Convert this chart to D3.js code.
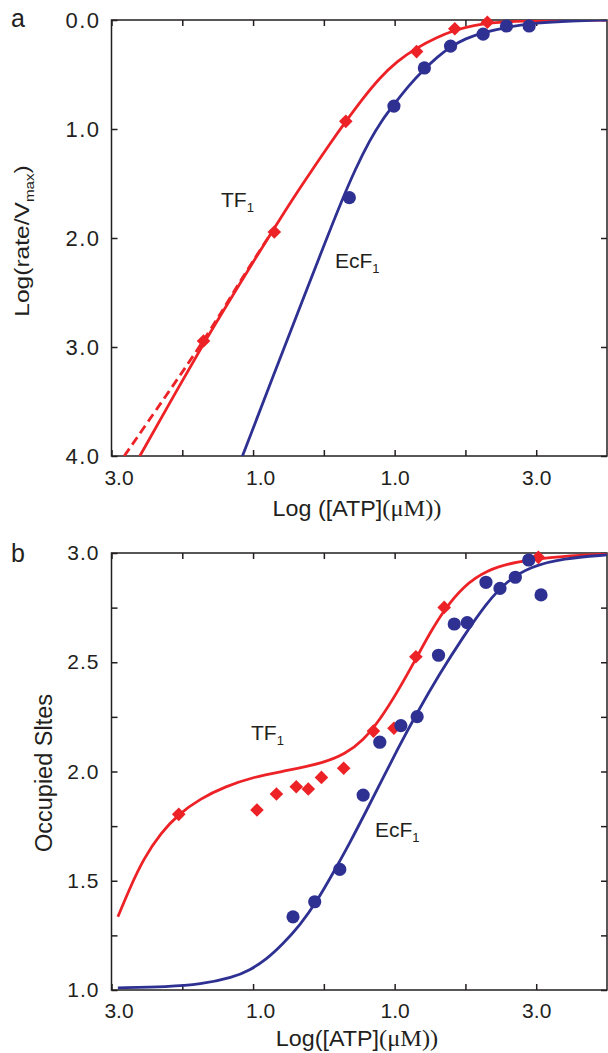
<!DOCTYPE html>
<html>
<head>
<meta charset="utf-8">
<script src="https://cdn.jsdelivr.net/npm/d3@7"></script>
<style>
  body { margin: 0; background: #fff; }
  svg { display: block; }
  text { font-family: "Liberation Sans", Arial, sans-serif; fill: #231f20; }
</style>
</head>
<body>
<div id="chart"></div>
<script>
// ---- tick values / labels (minus signs are missing in the original figure) ----
var xTicks = [-3, -2, -1, 0, 1, 2, 3];
var xTickLabels = ["3.0", "", "1.0", "", "1.0", "", "3.0"];
var rateTicks = [0, 1, 2, 3, 4];
var rateTickLabels = ["0.0", "1.0", "2.0", "3.0", "4.0"];
var siteTicks = [1, 1.25, 1.5, 1.75, 2, 2.25, 2.5, 2.75, 3];
var siteTickLabels = ["1.0", "", "1.5", "", "2.0", "", "2.5", "", "3.0"];

// ---- panel a : Log(rate/Vmax) vs Log[ATP] ----
var tfRatePts = [[-1.70, 2.945], [-0.70, 1.945], [0.31, 0.93], [1.31, 0.29], [1.85, 0.08], [2.31, 0.02]];
var ecRatePts = [[0.36, 1.63], [0.99, 0.79], [1.42, 0.44], [1.79, 0.24], [2.25, 0.13], [2.58, 0.055], [2.90, 0.055]];
var tfRateFit = [[-2.60, 4.0], [-2.0, 3.31], [-1.70, 2.97], [-1.45, 2.70], [-1.0, 2.22], [-0.72, 1.93], [-0.46, 1.66],
  [-0.15, 1.36], [0.08, 1.14], [0.31, 0.93], [0.55, 0.72], [0.79, 0.53], [1.03, 0.38], [1.31, 0.255], [1.59, 0.16],
  [1.85, 0.092], [2.11, 0.048], [2.44, 0.02], [3.0, 0.004], [4.0, 0.0]];
var tfRateFitDash = [[-2.82, 4.0], [-2.2, 3.42], [-1.61, 2.86], [-1.19, 2.40], [-0.72, 1.93]];
var ecRateFit = [[-1.15, 4.0], [-0.70, 3.24], [-0.30, 2.57], [0.0, 2.07], [0.25, 1.66], [0.45, 1.36], [0.65, 1.10],
  [0.82, 0.92], [0.99, 0.775], [1.20, 0.60], [1.42, 0.45], [1.60, 0.34], [1.79, 0.245], [2.0, 0.17], [2.25, 0.115],
  [2.58, 0.065], [3.0, 0.025], [3.5, 0.008], [4.0, 0.0]];

// ---- panel b : occupied sites vs Log[ATP] ----
var tfSitePts = [[-2.05, 1.804], [-0.945, 1.824], [-0.67, 1.897], [-0.39, 1.93], [-0.22, 1.92], [-0.034, 1.973],
  [0.28, 2.015], [0.70, 2.185], [0.99, 2.198], [1.30, 2.525], [1.70, 2.751], [3.03, 2.98]];
var ecSitePts = [[-0.436, 1.335], [-0.129, 1.404], [0.225, 1.552], [0.555, 1.892], [0.79, 2.134], [1.088, 2.21],
  [1.318, 2.251], [1.62, 2.532], [1.842, 2.675], [2.025, 2.681], [2.29, 2.866], [2.488, 2.838],
  [2.705, 2.889], [2.894, 2.968], [3.068, 2.808]];
var tfSiteFit = [[-2.91, 1.335], [-2.75, 1.46], [-2.55, 1.60], [-2.30, 1.72], [-2.05, 1.805], [-1.75, 1.875],
  [-1.40, 1.93], [-1.0, 1.975], [-0.5, 2.005], [0.0, 2.04], [0.3, 2.08], [0.55, 2.14], [0.80, 2.24],
  [1.05, 2.37], [1.30, 2.515], [1.50, 2.635], [1.70, 2.74], [1.97, 2.848], [2.30, 2.922], [2.72, 2.962],
  [3.38, 2.986], [4.0, 2.995]];
var ecSiteFit = [[-2.91, 1.01], [-2.2, 1.015], [-1.75, 1.025], [-1.28, 1.058], [-1.05, 1.09], [-0.81, 1.14],
  [-0.58, 1.21], [-0.34, 1.295], [-0.10, 1.405], [0.13, 1.535], [0.37, 1.675], [0.60, 1.82], [0.82, 1.96],
  [1.03, 2.095], [1.31, 2.265], [1.64, 2.45], [1.97, 2.617], [2.30, 2.772], [2.58, 2.87], [2.91, 2.937],
  [3.38, 2.976], [4.0, 2.991]];

var RED = "#ed2227", BLUE = "#2e3192";

var svg = d3.select("#chart").append("svg")
  .attr("width", 608)
  .attr("height", 1053);

var plotLeft = 111.5, plotRight = 607;

function drawPanel(cfg) {
  var h = cfg.bottom - cfg.top, w = plotRight - plotLeft;
  var g = svg.append("g").attr("transform", "translate(" + plotLeft + "," + cfg.top + ")");

  var x = d3.scaleLinear().domain([-3, 4]).range([0, w]);
  var y = d3.scaleLinear().domain(cfg.yDomain).range([h, 0]);

  var clipId = "clip-" + cfg.name;
  g.append("clipPath").attr("id", clipId)
    .append("rect").attr("width", w).attr("height", h);

  // axes, ticks pointing into the plot on all four sides
  var xb = g.append("g").attr("transform", "translate(0," + h + ")")
    .call(d3.axisBottom(x).tickValues(xTicks).tickSize(-6).tickPadding(cfg.xPad)
      .tickFormat(function(d, i) { return xTickLabels[i]; }));
  xb.selectAll("text").attr("dx", function(d) { return d < 0 ? 7 : 0; });
  g.append("g").call(d3.axisTop(x).tickValues(xTicks).tickSize(-6).tickFormat(""));
  var yl = g.append("g")
    .call(d3.axisLeft(y).tickValues(cfg.yTicks).tickSize(-6).tickPadding(cfg.yPad)
      .tickFormat(function(d, i) { return cfg.yLabels[i]; }));
  g.append("g").attr("transform", "translate(" + w + ",0)")
    .call(d3.axisRight(y).tickValues(cfg.yTicks).tickSize(-6).tickFormat(""));

  g.selectAll(".domain").remove();
  g.selectAll(".tick line").attr("stroke", "#231f20").attr("stroke-width", 1.5);
  g.selectAll(".tick text")
    .attr("font-family", "'Liberation Sans', Arial, sans-serif")
    .attr("font-size", 21)
    .attr("fill", "#231f20");
  yl.selectAll("text").attr("font-size", cfg.yFont).attr("letter-spacing", cfg.ySpacing);

  g.append("rect").attr("width", w).attr("height", h)
    .attr("fill", "none").attr("stroke", "#231f20").attr("stroke-width", 1.5);

  var line = d3.line()
    .curve(d3.curveBasis)
    .x(function(d) { return x(d[0]); })
    .y(function(d) { return y(d[1]); });

  var curves = g.append("g").attr("clip-path", "url(#" + clipId + ")");
  cfg.fits.forEach(function(f) {
    curves.append("path")
      .attr("d", line(f.data))
      .attr("fill", "none")
      .attr("stroke", f.color)
      .attr("stroke-width", 2.8)
      .attr("stroke-dasharray", f.dash || null);
  });

  // red diamonds
  g.selectAll(".diamond").data(cfg.tf).enter().append("path")
    .attr("class", "diamond")
    .attr("d", "M0,-6.8L6.8,0L0,6.8L-6.8,0Z")
    .attr("transform", function(d) { return "translate(" + x(d[0]) + "," + y(d[1]) + ")"; })
    .attr("fill", RED);

  // blue circles
  g.selectAll(".dot").data(cfg.ec).enter().append("circle")
    .attr("class", "dot")
    .attr("cx", function(d) { return x(d[0]); })
    .attr("cy", function(d) { return y(d[1]); })
    .attr("r", 6.6)
    .attr("fill", BLUE);

  return g;
}

function subLabel(x, y, main, sub) {
  var t = svg.append("text").attr("x", x).attr("y", y).attr("font-size", 21).text(main);
  t.append("tspan").attr("font-size", 13).attr("dy", 5).text(sub);
}

drawPanel({
  name: "a", top: 20, bottom: 456, yDomain: [4, 0],
  yTicks: rateTicks, yLabels: rateTickLabels, xPad: 14, yPad: 11, yFont: 22, ySpacing: 1.5,
  tf: tfRatePts, ec: ecRatePts,
  fits: [
    { data: tfRateFitDash, color: RED, dash: "9,5" },
    { data: tfRateFit, color: RED },
    { data: ecRateFit, color: BLUE }
  ]
});

drawPanel({
  name: "b", top: 553, bottom: 990, yDomain: [1, 3],
  yTicks: siteTicks, yLabels: siteTickLabels, xPad: 13, yPad: 12, yFont: 21, ySpacing: 1,
  tf: tfSitePts, ec: ecSitePts,
  fits: [
    { data: tfSiteFit, color: RED },
    { data: ecSiteFit, color: BLUE }
  ]
});

// panel letters
svg.append("text").attr("x", 11).attr("y", 27).attr("font-size", 25).text("a");
svg.append("text").attr("x", 11).attr("y", 562).attr("font-size", 25).text("b");

// series labels
subLabel(221, 207, "TF", "1");
subLabel(335, 268, "EcF", "1");
subLabel(251, 740, "TF", "1");
subLabel(375, 837, "EcF", "1");

// axis titles
var ya = svg.append("text")
  .attr("transform", "translate(29,241) rotate(-90) scale(1.17,1)")
  .attr("text-anchor", "middle")
  .attr("font-size", 21)
  .text("Log(rate/V");
ya.append("tspan").attr("font-size", 13).attr("dy", 5).text("max");
ya.append("tspan").attr("dy", -5).text(")");

svg.append("text")
  .attr("transform", "translate(52,773) rotate(-90)")
  .attr("text-anchor", "middle")
  .attr("font-size", 23.5)
  .text("Occupied Sltes");

function xTitle(y, cx, main) {
  var t = svg.append("text")
    .attr("transform", "translate(" + cx + "," + y + ") scale(1.06,1)")
    .attr("text-anchor", "middle")
    .attr("font-size", 22)
    .text(main);
  t.append("tspan")
    .attr("font-family", "'Liberation Serif', 'Times New Roman', serif")
    .attr("font-size", 23)
    .text("(\u03bcM))");
}
xTitle(516, 357, "Log ([ATP]");
xTitle(1046, 357, "Log([ATP]");
</script>
</body>
</html>
